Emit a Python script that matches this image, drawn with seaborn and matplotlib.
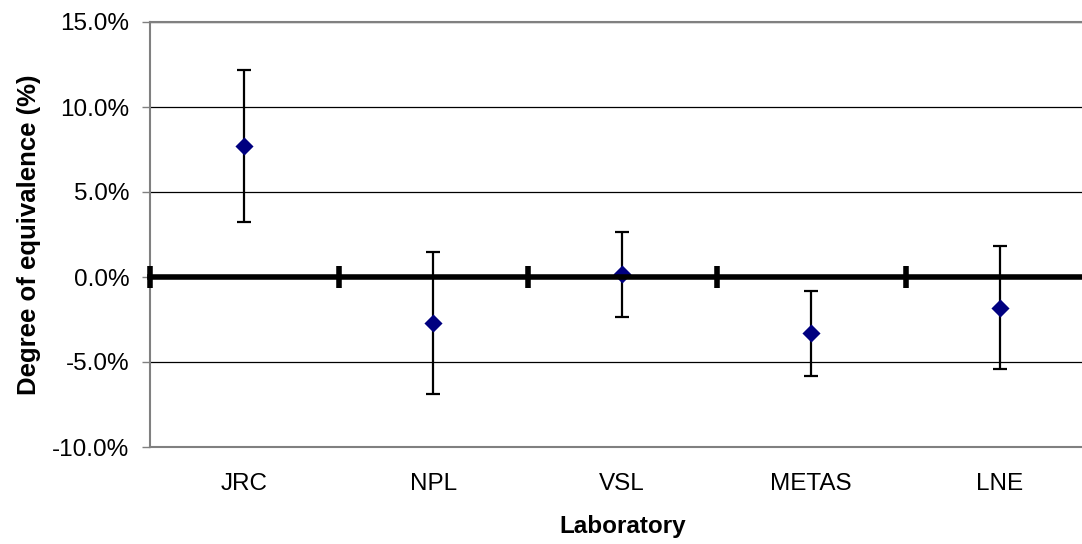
import matplotlib
matplotlib.use("Agg")
import matplotlib.pyplot as plt
import seaborn as sns
import numpy as np
import pandas as pd
from matplotlib.ticker import FuncFormatter, FixedLocator

labs = ["JRC", "NPL", "VSL", "METAS", "LNE"]
doe = [7.7, -2.7, 0.15, -3.3, -1.8]
err_up = [4.45, 4.2, 2.5, 2.5, 3.6]
err_lo = [4.45, 4.2, 2.5, 2.5, 3.6]
yticks = [-10, -5, 0, 5, 10, 15]

sns.set_theme(style="white")
plt.rcParams["font.family"] = ["Liberation Sans", "DejaVu Sans"]

df = pd.DataFrame({"Laboratory": labs, "DoE": doe})

fig = plt.figure(figsize=(10.82, 5.44), dpi=100)
ax = fig.add_axes([150 / 1082, 97 / 544, (1094.5 - 150) / 1082, 425 / 544])

pos = np.arange(len(labs))
ax.errorbar(pos, doe, yerr=[err_lo, err_up], fmt="none", ecolor="black",
            elinewidth=1.6, capsize=5, capthick=1.6, zorder=3)
sns.scatterplot(data=df, x="Laboratory", y="DoE", marker="D", s=85,
                color="#000080", edgecolor="#000080", linewidth=0, ax=ax, zorder=4)

FS = 17.5
ax.set_xlim(-0.5, len(labs) - 0.5)
ax.set_ylim(min(yticks), max(yticks))
ax.yaxis.set_major_locator(FixedLocator(yticks))
ax.yaxis.set_major_formatter(FuncFormatter(lambda v, p: f"{v:.1f}%"))
ax.set_xticks(pos)
ax.set_xticklabels(labs)
ax.tick_params(axis="x", length=0, pad=19, labelsize=FS, colors="black")
ax.tick_params(axis="y", length=6, width=1, direction="out", labelsize=FS,
               color="#808080", labelcolor="black", left=True, pad=9)

ax.set_axisbelow(True)
ax.yaxis.grid(True, color="black", linewidth=0.9)
for s in ["top", "bottom", "left"]:
    ax.spines[s].set_color("#808080")
    ax.spines[s].set_linewidth(1.5)
ax.spines["right"].set_visible(False)

# Zero axis line with category boundary tick marks
frac0 = (0 - min(yticks)) / (max(yticks) - min(yticks))
sec = ax.secondary_xaxis(frac0)
sec.set_zorder(5)
sec.spines["bottom"].set_linewidth(4)
sec.spines["bottom"].set_color("black")
sec.set_xticks(np.arange(len(labs) + 1) - 0.5)
sec.tick_params(axis="x", direction="inout", length=16, width=4, color="black",
                labelbottom=False)

ax.set_xlabel("Laboratory", fontsize=FS, fontweight="bold", labelpad=14, color="black")
ax.set_ylabel("Degree of equivalence (%)", fontsize=18.5, fontweight="bold",
              labelpad=8, color="black")

fig.savefig("out.png", dpi=100)
